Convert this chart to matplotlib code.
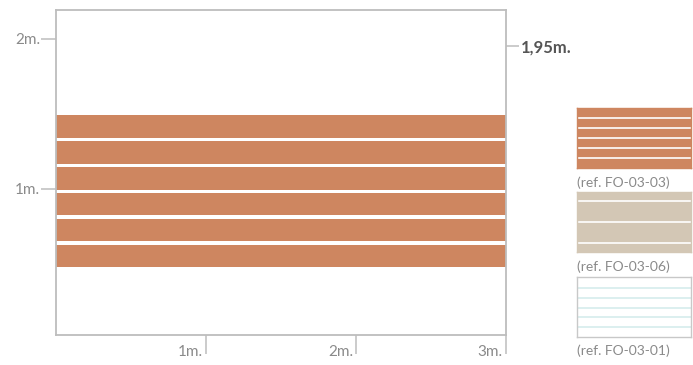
import matplotlib
matplotlib.use("Agg")
import matplotlib.pyplot as plt
from matplotlib.patches import Rectangle

plt.rcParams['font.family'] = ['Lato', 'DejaVu Sans']

# %% data
wall_width = 3.0
board_bottoms = [0.48, 0.652, 0.824, 0.996, 1.168, 1.34]
board_height = 0.15
x_ticks = [1, 2, 3]
x_labels = ["1m.", "2m.", "3m."]
y_ticks = [1, 2]
y_labels = ["1m.", "2m."]
total_height = 1.95
total_label = "1,95m."

swatch_names = ["(ref. FO-03-03)", "(ref. FO-03-06)", "(ref. FO-03-01)"]
swatch_fill = ["#ce8660", "#d3c7b5", "#ffffff"]
swatch_line_col = ["#ffffff", "#ffffff", "#d6ecec"]
swatch_lines = [
    [0.167, 0.333, 0.5, 0.667, 0.833],
    [0.15, 0.5, 0.855],
    [0.157, 0.323, 0.483, 0.65, 0.807],
]

grey = "#bdbdbd"
txt = "#8a8a8a"

# %% figure
fig = plt.figure(figsize=(6.93, 3.65), dpi=100)
ax = fig.add_axes([56 / 693, 1 - 335.3 / 365, 450 / 693, 325.3 / 365])
ax.set_xlim(0, wall_width)
ax.set_ylim(0.027, 2.19)

for b in board_bottoms:
    ax.add_patch(Rectangle((0, b), wall_width, board_height,
                           facecolor="#ce8660", edgecolor="none"))

for s in ax.spines.values():
    s.set_color(grey)
    s.set_linewidth(1.3)

ax.set_yticks(y_ticks)
ax.set_yticklabels(y_labels, fontsize=11, color=txt)
ax.tick_params(axis="y", length=10.8, width=1.1, color=grey, pad=0.5)

ax.set_xticks(x_ticks)
ax.set_xticklabels([])
ax.tick_params(axis="x", length=14, width=1.1, color=grey)
for x, lab in zip(x_ticks, x_labels):
    ax.annotate(lab, xy=(x, 0), xycoords=("data", "axes fraction"),
                xytext=(-2.2, -14.6), textcoords="offset points",
                ha="right", va="baseline", fontsize=11, color=txt)

# right side marker for total height
ax2 = ax.twinx()
ax2.set_ylim(ax.get_ylim())
ax2.set_yticks([total_height])
ax2.set_yticklabels([total_label], fontsize=12, fontweight="bold", color="#555555")
ax2.tick_params(axis="y", length=9, width=1.1, color=grey, pad=1.5)
for s in ax2.spines.values():
    s.set_visible(False)

# %% swatches
sw_bottoms = [1 - 168.3 / 365, 1 - 252.3 / 365, 1 - 336.7 / 365]
for name, fc, lc, lines, bot in zip(swatch_names, swatch_fill, swatch_line_col,
                                    swatch_lines, sw_bottoms):
    sa = fig.add_axes([577 / 693, bot, 114 / 693, 60 / 365])
    sa.set_facecolor(fc)
    sa.set_xlim(0, 1)
    sa.set_ylim(0, 1)
    for y in lines:
        sa.axhline(y, color=lc, lw=1.2)
    sa.set_xticks([])
    sa.set_yticks([])
    for s in sa.spines.values():
        s.set_color("#c8c8c8" if fc == "#ffffff" else fc)
        s.set_linewidth(1.0)
    fig.text(577 / 693, bot - 14 / 365, name, fontsize=10, color=txt,
             ha="left", va="center")

fig.savefig("out.png", dpi=100)
